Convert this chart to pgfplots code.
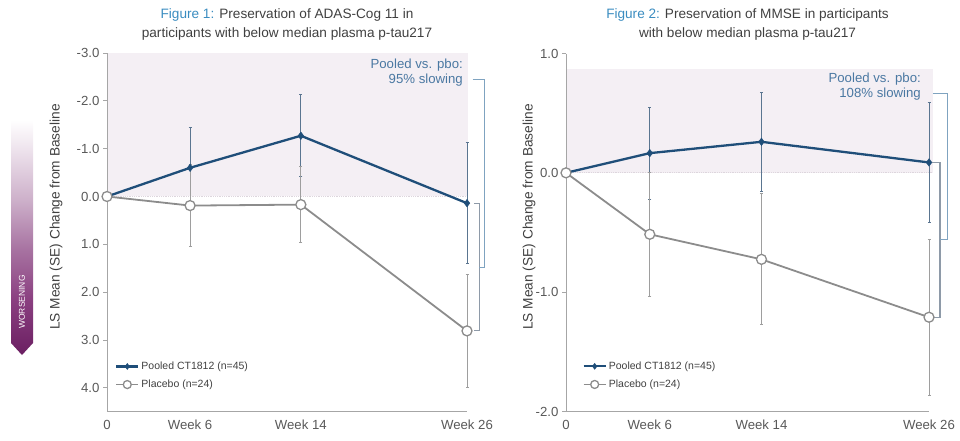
\documentclass[border=0pt]{standalone}
\usepackage{fontspec}
\setmainfont{Liberation Sans}
\usepackage{pgfplots}
\usepackage{pgfplotstable}
\pgfplotsset{compat=1.18}

\definecolor{pooled}{HTML}{1F4E79}
\definecolor{pooledErr}{HTML}{5A7590}
\definecolor{plac}{HTML}{8C8C8C}
\definecolor{placErr}{HTML}{9E9E9E}
\definecolor{shadecol}{HTML}{F4EFF4}
\definecolor{axcol}{HTML}{A6A6A6}
\definecolor{tickcol}{HTML}{595959}
\definecolor{txtcol}{HTML}{404040}
\definecolor{annot}{HTML}{4A78A2}
\definecolor{figblue}{HTML}{3A8CC0}
\definecolor{brOuter}{HTML}{7FA3C0}
\definecolor{brInner}{HTML}{8E9AA8}
\definecolor{purpA}{HTML}{6B1F62}
\definecolor{purpB}{HTML}{8A3F80}
\definecolor{purpC}{HTML}{A772A1}
\definecolor{purpD}{HTML}{CDB0CA}
\definecolor{purpE}{HTML}{EDE2EC}
\definecolor{dotcol}{HTML}{DDD6DD}

\pgfdeclareverticalshading{worse}{100bp}{color(0bp)=(purpA); color(25bp)=(purpA); color(36bp)=(purpB); color(46bp)=(purpC); color(56bp)=(purpD); color(66bp)=(purpE); color(72bp)=(white); color(100bp)=(white)}

\pgfplotstableread{
x y e
0 0 0
6 -0.60 0.85
14 -1.27 0.86
26 0.14 1.26
}\adasPooled
\pgfplotstableread{
x y e
0 0 0
6 0.19 0.85
14 0.17 0.80
26 2.81 1.18
}\adasPlacebo
\pgfplotstableread{
x y e
0 0 0
6 0.165 0.385
14 0.26 0.415
26 0.087 0.50
}\mmsePooled
\pgfplotstableread{
x y e
0 0 0
6 -0.515 0.52
14 -0.725 0.55
26 -1.21 0.655
}\mmsePlacebo

\pgfplotsset{
  mystyle/.style={
    scale only axis, clip=false,
    xmin=0, xmax=26,
    axis line style={draw=none},
    xtick={0,6,14,26}, xticklabels={0,Week 6,Week 14,Week 26},
    xtick style={draw=none},
    ytick pos=left, tick align=outside,
    ytick style={draw=axcol, line width=0.8pt}, major tick length=4pt,
    ticklabel style={font=\fontsize{13.2}{15}\selectfont, text=tickcol},
    xticklabel style={yshift=-1pt},
    yticklabel style={/pgf/number format/.cd, fixed, fixed zerofill, precision=1},
    /pgf/number format/assume math mode=true,
    legend style={draw=none, fill=none, font=\fontsize{10.5}{12}\selectfont, text=txtcol,
      row sep=5pt, inner sep=0pt, legend cell align=left},
    legend image code/.code={\draw[mark repeat=2,mark phase=2,#1, every mark/.append style={scale=0.8}] plot coordinates {(0pt,0pt)(11pt,0pt)(22pt,0pt)};},
  },
  pooledstyle/.style={pooled, line width=2.3pt, mark=diamond*, mark size=3.8pt,
    mark options={solid, fill=pooled, draw=pooled, line width=0.4pt},
    error bars/.cd, y dir=both, y explicit,
    error bar style={pooledErr, line width=1pt},
    error mark options={rotate=90, pooledErr, mark size=1.5pt, line width=1pt}},
  placstyle/.style={plac, line width=1.8pt, mark=*, mark size=5pt,
    mark options={solid, fill=white, draw=plac, line width=1.3pt},
    error bars/.cd, y dir=both, y explicit,
    error bar style={placErr, line width=1pt},
    error mark options={rotate=90, placErr, mark size=1.5pt, line width=1pt}},
}

\begin{document}
\begin{tikzpicture}
\path[use as bounding box] (0pt,0pt) rectangle (960pt,440pt);

% worsening arrow
\shade[shading=worse] (11pt,335pt) -- (33pt,335pt) -- (33pt,97pt) -- (22pt,85pt) -- (11pt,97pt) -- cycle;
\node[rotate=90, text=white, font=\fontsize{8.5}{10}\selectfont] at (22pt,138pt) {WORSENING};

% titles
\node[font=\fontsize{13.6}{16}\selectfont, text=txtcol] at (287pt,425pt) {\textcolor{figblue}{Figure 1:} Preservation of ADAS-Cog 11 in};
\node[font=\fontsize{13.6}{16}\selectfont, text=txtcol] at (287pt,406pt) {participants with below median plasma p-tau217};
\node[font=\fontsize{13.6}{16}\selectfont, text=txtcol] at (747.5pt,425pt) {\textcolor{figblue}{Figure 2:} Preservation of MMSE in participants};
\node[font=\fontsize{13.6}{16}\selectfont, text=txtcol] at (747.5pt,406pt) {with below median plasma p-tau217};

% y labels
\node[rotate=90, font=\fontsize{13.7}{16}\selectfont, text=txtcol] at (56pt,223pt) {LS Mean (SE) Change from Baseline};
\node[rotate=90, font=\fontsize{13.7}{16}\selectfont, text=txtcol] at (529pt,223pt) {LS Mean (SE) Change from Baseline};

% ---------- Figure 1 ----------
\begin{axis}[mystyle, at={(107pt,28.3pt)}, anchor=south west, width=360pt, height=358.7pt,
  ymin=-3, ymax=4.5, y dir=reverse, ytick={-3,-2,...,4},
  legend style={at={(0.022,0.145)}, anchor=north west}]
  \addplot[draw=none, fill=shadecol, forget plot] coordinates {(0,0) (26.1,0) (26.1,-3) (0,-3)} -- cycle;
  \addplot[dotcol, densely dotted, line width=0.8pt, forget plot] coordinates {(0,0) (26.1,0)};
  \draw[axcol, line width=1pt] (axis description cs:0,1) -- (axis description cs:0,0) -- (axis description cs:1,0);
  \addplot[pooledstyle] table[x=x, y=y, y error=e] {\adasPooled};
  \addlegendentry{Pooled CT1812 (n=45)}
  \addplot[placstyle] table[x=x, y=y, y error=e] {\adasPlacebo};
  \addlegendentry{Placebo (n=24)}
  \addplot[brInner, line width=1.1pt, forget plot] coordinates {(26.53,0.14) (26.9,0.14) (26.9,2.81) (26.53,2.81)};
  \addplot[brOuter, line width=1.1pt, forget plot] coordinates {(26.4,-2.45) (27.26,-2.45) (27.26,1.48) (26.9,1.48)};
\end{axis}

% ---------- Figure 2 ----------
\begin{axis}[mystyle, at={(566pt,28.5pt)}, anchor=south west, width=363pt, height=358pt,
  ymin=-2, ymax=1, ytick={-2,-1,0,1},
  legend style={at={(0.045,0.145)}, anchor=north west}]
  \addplot[draw=none, fill=shadecol, forget plot] coordinates {(0,0) (26.3,0) (26.3,0.866) (0,0.866)} -- cycle;
  \addplot[dotcol, densely dotted, line width=0.8pt, forget plot] coordinates {(0,0) (26.3,0)};
  \draw[axcol, line width=1pt] (axis description cs:0,1) -- (axis description cs:0,0) -- (axis description cs:1,0);
  \addplot[pooledstyle] table[x=x, y=y, y error=e] {\mmsePooled};
  \addlegendentry{Pooled CT1812 (n=45)}
  \addplot[placstyle] table[x=x, y=y, y error=e] {\mmsePlacebo};
  \addlegendentry{Placebo (n=24)}
  \addplot[brInner, line width=1.1pt, forget plot] coordinates {(26.2,0.087) (26.79,0.087) (26.79,-1.21) (26.2,-1.21)};
  \addplot[brOuter, line width=1.1pt, forget plot] coordinates {(26.27,0.666) (27.3,0.666) (27.3,-0.56) (26.79,-0.56)};
\end{axis}

% annotations (on top of shading)
\node[anchor=east, align=right, font=\fontsize{13.2}{15}\selectfont, text=annot, inner sep=0pt] at (463pt,367.5pt) {Pooled vs. pbo:\\95\% slowing};
\node[anchor=east, align=right, font=\fontsize{13.2}{15}\selectfont, text=annot, inner sep=0pt] at (921pt,353pt) {Pooled vs. pbo:\\108\% slowing};
\end{tikzpicture}
\end{document}
